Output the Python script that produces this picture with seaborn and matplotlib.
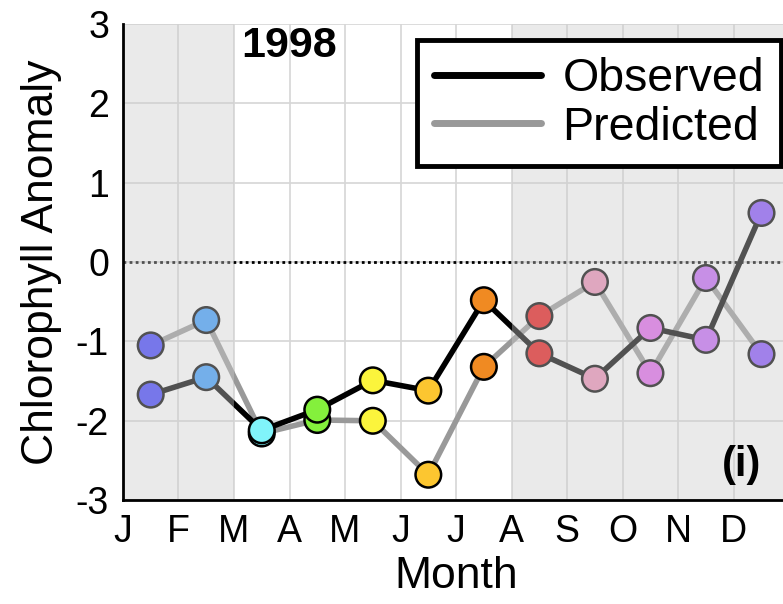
import numpy as np
import pandas as pd
import matplotlib
matplotlib.use("Agg")
import matplotlib.pyplot as plt
import seaborn as sns

# data
months = ["J", "F", "M", "A", "M", "J", "J", "A", "S", "O", "N", "D"]
month_id = ["Jan", "Feb", "Mar", "Apr", "May", "Jun", "Jul", "Aug", "Sep", "Oct", "Nov", "Dec"]
observed = [-1.67, -1.45, -2.12, -1.86, -1.49, -1.62, -0.48, -1.15, -1.47, -0.83, -0.98, 0.62]
predicted = [-1.05, -0.73, -2.16, -1.99, -2.00, -2.68, -1.32, -0.68, -0.25, -1.40, -0.20, -1.16]
month_colors = ["#4040ff", "#3a9cff", "#80f4fa", "#84f03c", "#fbf43c", "#fcc630",
                "#f08a22", "#e81414", "#ec90b8", "#e066ec", "#c468f8", "#8650ff"]
shaded_spans = [(0, 2), (7, 12)]

df = pd.DataFrame({
    "x": np.arange(12) + 0.5,
    "month": month_id,
    "Observed": observed,
    "Predicted": predicted,
})
palette = dict(zip(month_id, month_colors))

sns.set_style("white")
plt.rcParams["font.family"] = ["Liberation Sans", "DejaVu Sans"]
plt.rcParams["axes.unicode_minus"] = False
plt.rcParams["text.color"] = "black"
plt.rcParams["axes.labelcolor"] = "black"

fig = plt.figure(figsize=(7.83, 6.04), dpi=100)
ax = fig.add_axes([0.157, 0.172, 0.851, 0.788])

# lines
sns.lineplot(data=df, x="x", y="Predicted", color="#999999", lw=4, sort=False,
             ax=ax, label="Predicted", zorder=3)
sns.lineplot(data=df, x="x", y="Observed", color="black", lw=4, sort=False,
             ax=ax, label="Observed", zorder=4)

# coloured month markers
sns.scatterplot(data=df, x="x", y="Predicted", hue="month", palette=palette, s=340,
                edgecolor="black", linewidth=1.8, legend=False, ax=ax, zorder=5)
sns.scatterplot(data=df, x="x", y="Observed", hue="month", palette=palette, s=340,
                edgecolor="black", linewidth=1.8, legend=False, ax=ax, zorder=6)

ax.axhline(0, color="black", ls=(0, (1, 1.2)), lw=2, zorder=2)

# grey translucent season shading on top
for a, b in shaded_spans:
    ax.axvspan(a, b, color="#cccccc", alpha=0.4, lw=0, zorder=8)

ax.set_xlim(0, 12)
ax.set_ylim(-3, 3)
ax.set_xticks(np.arange(13))
ax.set_xticklabels(months + [""])
ax.set_yticks(np.arange(-3, 4))
ax.grid(True, color="#d6d6d6", lw=1.2, zorder=0)
ax.set_axisbelow(True)

for s in ["top", "right"]:
    ax.spines[s].set_visible(False)
for s in ["left", "bottom"]:
    ax.spines[s].set_color("black")
    ax.spines[s].set_linewidth(2)
    ax.spines[s].set_zorder(9)
ax.tick_params(direction="out", length=7, width=2, colors="black", labelsize=27, pad=3)

ax.set_xlabel("Month", fontsize=32, labelpad=4)
ax.set_ylabel("Chlorophyll Anomaly", fontsize=32, labelpad=10)

ax.text(3.0, 2.72, "1998", fontsize=31, fontweight="bold", ha="center", va="center", zorder=10)
ax.text(11.5, -2.56, "(i)", fontsize=30, fontweight="bold", ha="right", va="center", zorder=10)

handles, labels = ax.get_legend_handles_labels()
order = [labels.index("Observed"), labels.index("Predicted")]
leg = ax.legend([handles[i] for i in order], [labels[i] for i in order],
                loc="upper left", bbox_to_anchor=(0.441, 0.966), borderaxespad=0,
                fontsize=33.5, frameon=True, fancybox=False, framealpha=1,
                edgecolor="black", handlelength=2.3, handletextpad=0.47,
                borderpad=0.36, labelspacing=0.1)
leg.get_frame().set_linewidth(3.5)
for h in leg.get_lines():
    h.set_linewidth(5)
leg.set_zorder(20)

fig.savefig("out.png", dpi=100)
